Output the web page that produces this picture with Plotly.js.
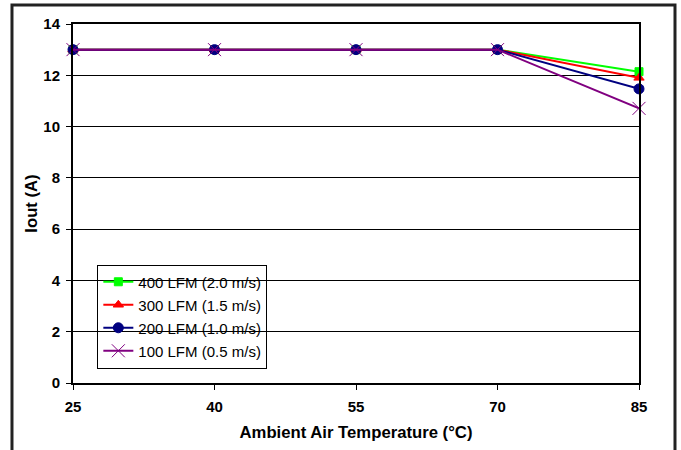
<!DOCTYPE html>
<html><head><meta charset="utf-8">
<script src="https://cdn.plot.ly/plotly-3.0.1.min.js"></script>
<style>html,body{margin:0;padding:0;background:#fff}#c{width:681px;height:450px}</style>
</head><body><div id="c"></div>
<script>
const temps = [25, 40, 55, 70, 85];
const lfm400 = [13, 13, 13, 13, 12.14];
const lfm300 = [13, 13, 13, 13, 11.9];
const lfm200 = [13, 13, 13, 13, 11.47];
const lfm100 = [13, 13, 13, 13, 10.71];
const names = ['400 LFM (2.0 m/s)', '300 LFM (1.5 m/s)', '200 LFM (1.0 m/s)', '100 LFM (0.5 m/s)'];
const colors = ['#00ff00', '#ff0000', '#000080', '#800080'];
const symbols = ['square', 'triangle-up', 'circle', 'x-thin-open'];
const sizes = [8, 9, 10, 13];
const series = [lfm400, lfm300, lfm200, lfm100];

const traces = series.map((s, i) => ({
  x: temps, y: s, name: names[i], type: 'scatter', mode: 'lines+markers',
  cliponaxis: false, legendgroup: 'g' + i,
  line: {color: colors[i], width: 2},
  marker: {symbol: symbols[i], size: sizes[i], color: colors[i], line: {color: colors[i], width: 1}}
}));

const layout = {
  width: 681, height: 450,
  margin: {l: 73, r: 42, t: 24, b: 67},
  paper_bgcolor: 'rgba(0,0,0,0)', plot_bgcolor: 'rgba(0,0,0,0)',
  font: {family: 'Liberation Sans, Arial, sans-serif', color: '#000'},
  showlegend: true,
  legend: {x: 0.043, y: 0.33, xanchor: 'left', yanchor: 'top', bgcolor: 'rgba(0,0,0,0)',
    bordercolor: '#000', borderwidth: 1, font: {size: 15}, traceorder: 'grouped', tracegroupgap: 0.5, itemwidth: 30},
  xaxis: {range: [25, 85], tickvals: temps, ticktext: temps.map(String), showgrid: false,
    ticks: 'outside', ticklen: 5, tickwidth: 1, tickcolor: '#000', zeroline: false,
    showline: true, linecolor: '#000', linewidth: 2, mirror: true, ticklabelstandoff: 4,
    tickfont: {size: 15, weight: 'bold'},
    title: {text: 'Ambient Air Temperature (°C)', font: {size: 16.7, weight: 'bold'}, standoff: 12}},
  yaxis: {range: [0, 14], dtick: 2, showgrid: true, gridcolor: '#000', gridwidth: 1,
    ticks: 'outside', ticklen: 5, tickwidth: 1, tickcolor: '#000', zeroline: false,
    showline: true, linecolor: '#000', linewidth: 2, mirror: true, ticklabelstandoff: 3,
    tickfont: {size: 15, weight: 'bold'},
    title: {text: 'Iout (A)', font: {size: 16.7, weight: 'bold'}, standoff: 1}},
  shapes: [{type: 'rect', xref: 'paper', yref: 'paper', x0: -0.1078, x1: 1.0636, y0: -0.3, y1: 1.053,
    line: {color: '#222', width: 3}, layer: 'below'}]
};
Plotly.newPlot('c', traces, layout, {displayModeBar: false, staticPlot: true});
</script></body></html>
